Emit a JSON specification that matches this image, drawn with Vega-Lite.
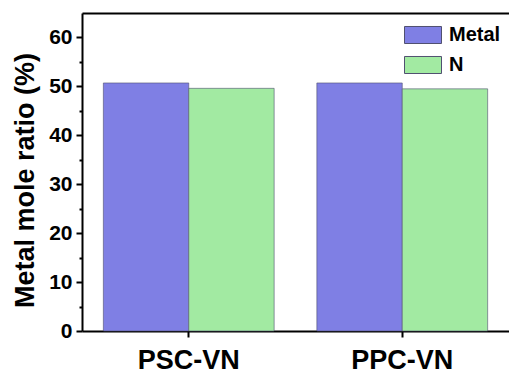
{
  "$schema": "https://vega.github.io/schema/vega-lite/v6.json",
  "width": 427,
  "height": 318,
  "autosize": "none",
  "padding": {"left": 82, "top": 13, "right": 0, "bottom": 45},
  "background": "white",
  "config": {"view": {"stroke": null}, "font": "Liberation Sans"},
  "data": {"values": [
    {"sample": "PSC-VN", "element": "Metal", "ratio": 50.7},
    {"sample": "PSC-VN", "element": "N", "ratio": 49.6},
    {"sample": "PPC-VN", "element": "Metal", "ratio": 50.7},
    {"sample": "PPC-VN", "element": "N", "ratio": 49.5}
  ]},
  "resolve": {"axis": {"x": "independent"}},
  "layer": [
    {
      "mark": {"type": "bar", "stroke": "#505070", "strokeWidth": 1, "strokeOpacity": 0.6},
      "encoding": {
        "x": {
          "field": "sample", "type": "nominal", "sort": ["PSC-VN", "PPC-VN"],
          "scale": {"paddingInner": 0.2, "paddingOuter": 0.1},
          "axis": {
            "orient": "bottom", "labels": true, "ticks": true,
            "title": null, "labelAngle": 0, "labelFontSize": 27, "labelFontWeight": "bold",
            "labelColor": "black", "labelPadding": 10, "tickSize": 6, "tickWidth": 2,
            "tickColor": "black", "domainColor": "black", "domainWidth": 2
          }
        },
        "xOffset": {"field": "element", "type": "nominal", "sort": ["Metal", "N"], "scale": {"paddingInner": 0, "paddingOuter": 0}},
        "y": {
          "field": "ratio", "type": "quantitative",
          "scale": {"domain": [0, 65], "nice": false},
          "axis": {
            "values": [0, 5, 10, 15, 20, 25, 30, 35, 40, 45, 50, 55, 60],
            "labelExpr": "datum.value % 10 === 0 ? datum.label : ''",
            "tickSize": {"condition": {"test": "datum.value % 10 === 0", "value": 6}, "value": 3},
            "tickWidth": 2, "tickColor": "black", "domainColor": "black", "domainWidth": 2,
            "labelFontSize": 21, "labelFontWeight": "bold", "labelColor": "black", "labelPadding": 4,
            "grid": false,
            "title": "Metal mole ratio (%)", "titleFontSize": 27, "titleFontWeight": "bold",
            "titleColor": "black", "titlePadding": 9, "titleY": 167
          }
        },
        "color": {
          "field": "element", "type": "nominal",
          "scale": {"domain": ["Metal", "N"], "range": ["#7f7fe4", "#a2eaa2"]},
          "legend": {
            "title": null, "orient": "none", "legendX": 322, "legendY": 3, "padding": 0,
            "symbolType": "M-1,-0.46H1V0.46H-1Z", "symbolSize": 1369,
            "symbolStrokeColor": "#505070", "symbolStrokeWidth": 1, "symbolOpacity": 1,
            "labelFontSize": 20, "labelFontWeight": "bold", "labelColor": "black",
            "labelOffset": 7, "rowPadding": -5
          }
        }
      }
    },
    {
      "mark": {"type": "bar", "opacity": 0},
      "encoding": {
        "x": {
          "field": "sample", "type": "nominal", "sort": ["PSC-VN", "PPC-VN"],
          "axis": {"orient": "top", "labels": false, "ticks": false, "title": null, "domainColor": "black", "domainWidth": 2}
        }
      }
    }
  ]
}
